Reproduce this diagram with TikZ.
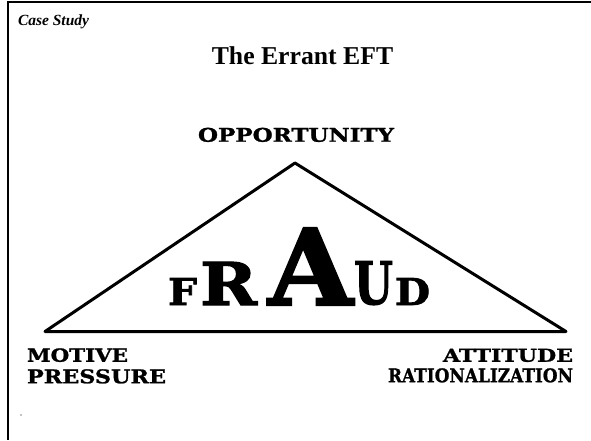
\documentclass[tikz,border=0pt]{standalone}
\usepackage{fontspec}
\setmainfont{Liberation Serif}
\newfontfamily\copfont[FakeBold=1.2]{DejaVu Serif}
\newfontfamily\heavyfont[FakeBold=2]{DejaVu Serif}
\usepackage{graphicx}
\newcommand{\capsbox}[3]{\resizebox{#1pt}{#2pt}{\copfont\bfseries\fontsize{14}{14}\selectfont #3}}
\newcommand{\bigbox}[3]{\resizebox{#1pt}{#2pt}{\heavyfont\bfseries\fontsize{20}{20}\selectfont #3}}
\begin{document}
\begin{tikzpicture}[x=1pt,y=-1pt,
  lab/.style={inner sep=0pt,outer sep=0pt},
  frame/.style={line width=2.5pt},
  tri/.style={line width=3pt,line join=round,line cap=round}]
\useasboundingbox (0,0) rectangle (591,440);
% frame
\draw[frame] (8,2.2) -- (591,2.2);
\draw[frame] (8,1) -- (8,440);
% header texts
\node[lab,anchor=base west] (case) at (18,25) {\fontsize{15.5}{18}\selectfont\bfseries\itshape Case Study};
\node[lab,anchor=base] (title) at (302.5,64.5) {\fontsize{25.7}{30}\selectfont\bfseries The Errant EFT};
% triangle
\coordinate (apex) at (295,163);
\coordinate (bl) at (45,331.5);
\coordinate (br) at (566,331.5);
\draw[tri] (bl) -- (apex) -- (br) -- cycle;
% corner labels
\node[lab,anchor=south west] (opp) at (198,142) {\capsbox{196}{14}{OPPORTUNITY}};
\node[lab,anchor=south west] (mot) at (27,362) {\capsbox{101}{13.5}{MOTIVE}};
\node[lab,anchor=south west] (pre) at (27,383.5) {\capsbox{139}{14}{PRESSURE}};
\node[lab,anchor=south east] (att) at (573,362) {\capsbox{130}{13}{ATTITUDE}};
\node[lab,anchor=south east] (rat) at (573,382.5) {\capsbox{185}{14}{RATIONALIZATION}};
% FRAUD
\node[lab,anchor=south west] (f) at (168,305) {\bigbox{29}{27}{F}};
\node[lab,anchor=south west] (r) at (200,305) {\bigbox{57}{43}{R}};
\node[lab,anchor=south west] (a) at (268,305) {\bigbox{85}{77}{A}};
\node[lab,anchor=south west] (u) at (354,305) {\bigbox{39}{43}{U}};
\node[lab,anchor=south west] (d) at (395,305) {\bigbox{35}{27}{D}};
% stray dot
\fill (21,415) circle (0.6);
\end{tikzpicture}
\end{document}
